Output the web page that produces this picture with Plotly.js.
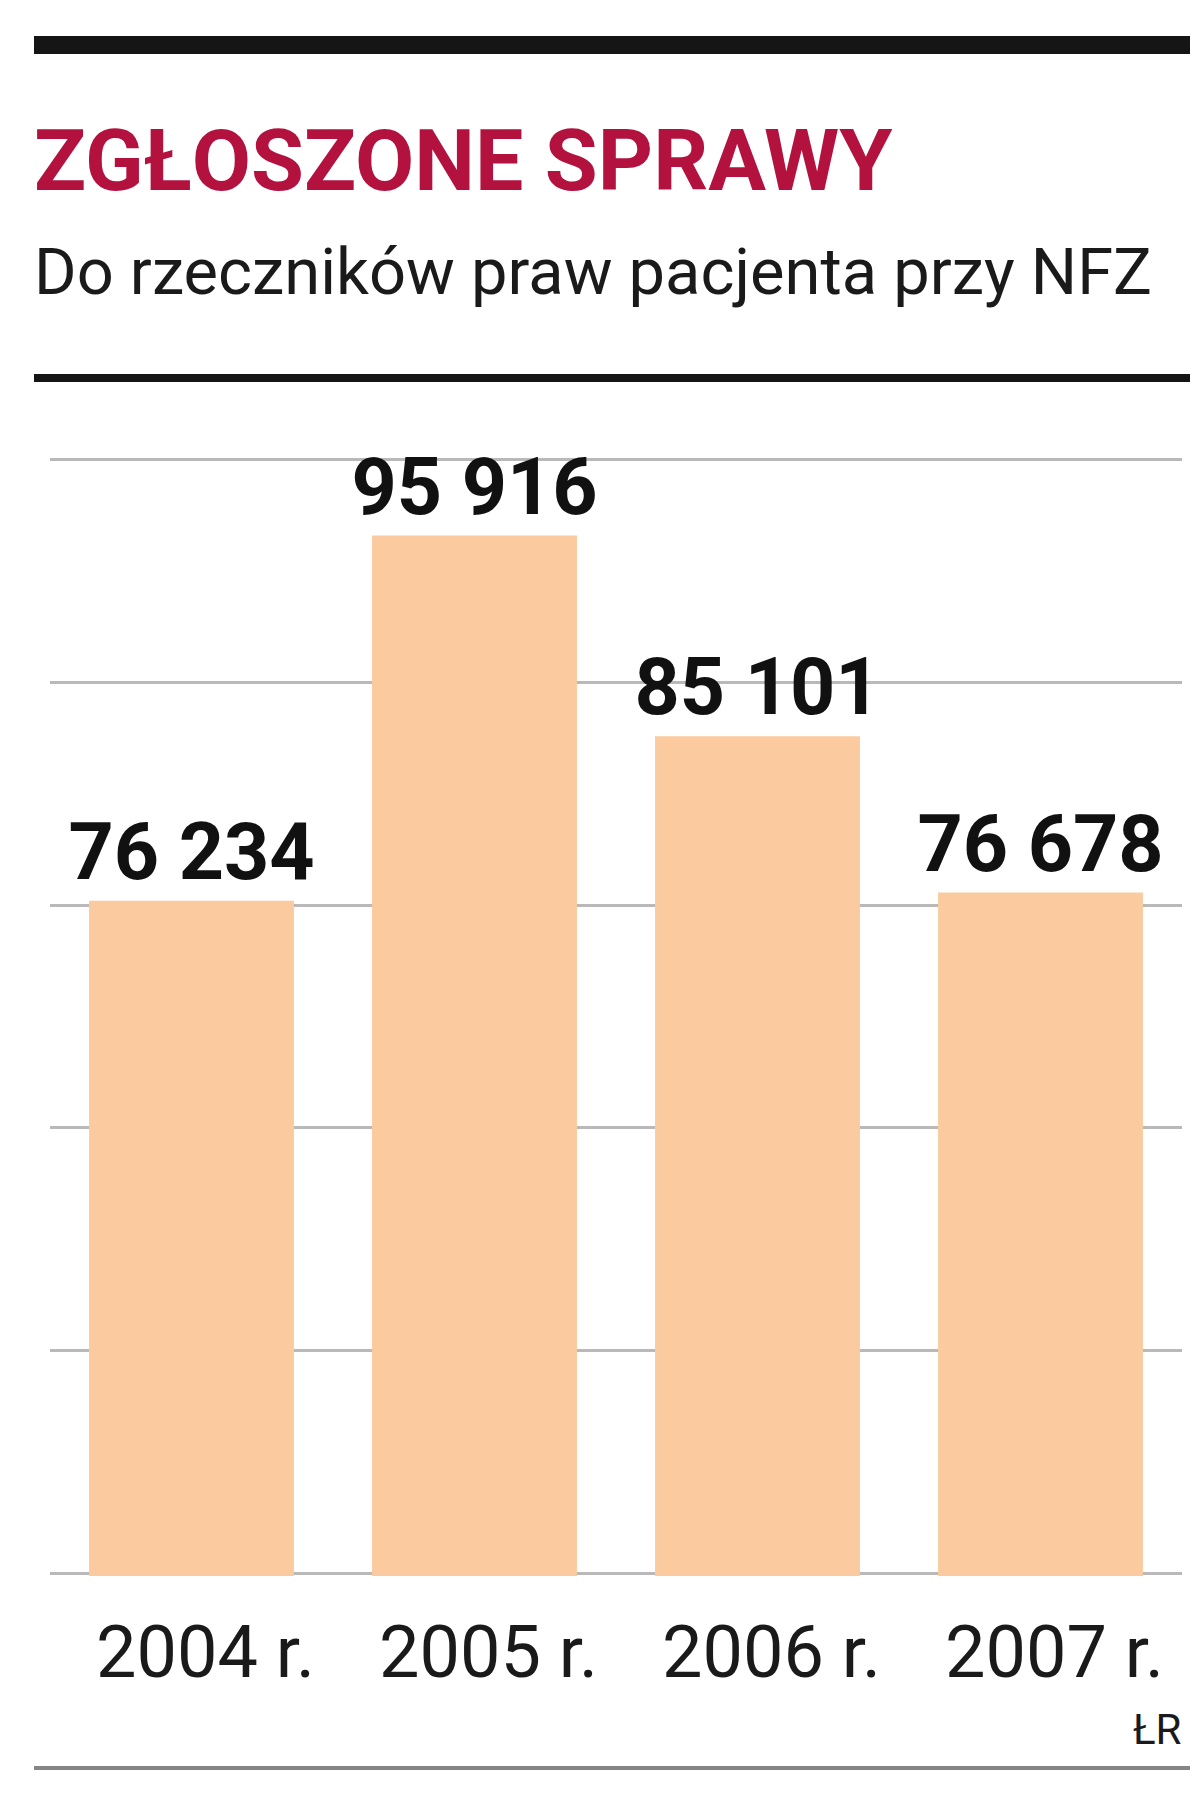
<!DOCTYPE html>
<html>
<head>
<meta charset="utf-8">
<script src="https://cdn.plot.ly/plotly-3.0.1.min.js"></script>
<style>html,body{margin:0;padding:0;background:#fff;}</style>
</head>
<body>
<div id="chart" style="width:1200px;height:1797px;"></div>
<script>
const years = ["2004", "2005", "2006", "2007"];
const tickLabels = ["2004 r.", "2005 r.", "2006 r.", "2007 r."];
const cases = [76234, 95916, 85101, 76678];
const titleText = "ZGŁOSZONE SPRAWY";
const subtitleText = "Do rzeczników praw pacjenta przy NFZ";
const sourceText = "ŁR";

const FONT = 'Roboto, "Liberation Sans", sans-serif';

// page geometry (pixels)
const W = 1200, H = 1797;
const M = {l: 50, r: 18, t: 457, b: 221};
const plotBottom = H - M.b, plotH = H - M.t - M.b, plotW = W - M.l - M.r;
const py = v => (plotBottom - v) / plotH;
const px = v => (v - M.l) / plotW;

const trace = {
  type: 'bar',
  x: years,
  y: cases,
  marker: {color: '#fbcb9f', line: {width: 0}},
  texttemplate: '%{y:,}',
  textposition: 'outside',
  constraintext: 'none',
  cliponaxis: false,
  textfont: {family: FONT, size: 79, color: '#111111', weight: 'bold'},
  hoverinfo: 'skip'
};

const layout = {
  width: W,
  height: H,
  margin: M,
  paper_bgcolor: '#ffffff',
  plot_bgcolor: '#ffffff',
  separators: ', ',
  showlegend: false,
  bargap: 0.276,
  font: {family: FONT},
  xaxis: {
    type: 'category',
    tickmode: 'array',
    tickvals: years,
    ticktext: tickLabels,
    showgrid: false,
    zeroline: false,
    showline: false,
    ticks: '',
    ticklabelstandoff: 28,
    ticklabelshift: 14,
    tickfont: {family: FONT, size: 72, color: '#1a1a1a'}
  },
  yaxis: {
    range: [39850, 100150],
    tick0: 40000,
    dtick: 12000,
    showticklabels: false,
    showgrid: true,
    gridcolor: '#b9b9b9',
    gridwidth: 3,
    zeroline: false,
    showline: false,
    ticks: ''
  },
  shapes: [
    {type: 'line', xref: 'paper', yref: 'paper', x0: px(34), x1: px(1190), y0: py(45), y1: py(45),
     line: {color: '#151515', width: 18}},
    {type: 'line', xref: 'paper', yref: 'paper', x0: px(34), x1: px(1190), y0: py(378), y1: py(378),
     line: {color: '#151515', width: 8}},
    {type: 'line', xref: 'paper', yref: 'paper', x0: px(34), x1: px(1190), y0: py(1768), y1: py(1768),
     line: {color: '#858585', width: 4}}
  ],
  annotations: [
    {text: titleText, xref: 'paper', yref: 'paper', x: px(32), y: py(160), xanchor: 'left', yanchor: 'middle',
     showarrow: false, font: {family: FONT, size: 86, color: '#b3123f', weight: 'bold'}},
    {text: subtitleText, xref: 'paper', yref: 'paper', x: px(32), y: py(272), xanchor: 'left', yanchor: 'middle',
     showarrow: false, font: {family: FONT, size: 65, color: '#1a1a1a'}},
    {text: sourceText, xref: 'paper', yref: 'paper', x: px(1184), y: py(1729), xanchor: 'right', yanchor: 'middle',
     showarrow: false, font: {family: FONT, size: 42, color: '#1a1a1a'}}
  ]
};

Plotly.newPlot('chart', [trace], layout, {displayModeBar: false, staticPlot: true});
</script>
</body>
</html>
